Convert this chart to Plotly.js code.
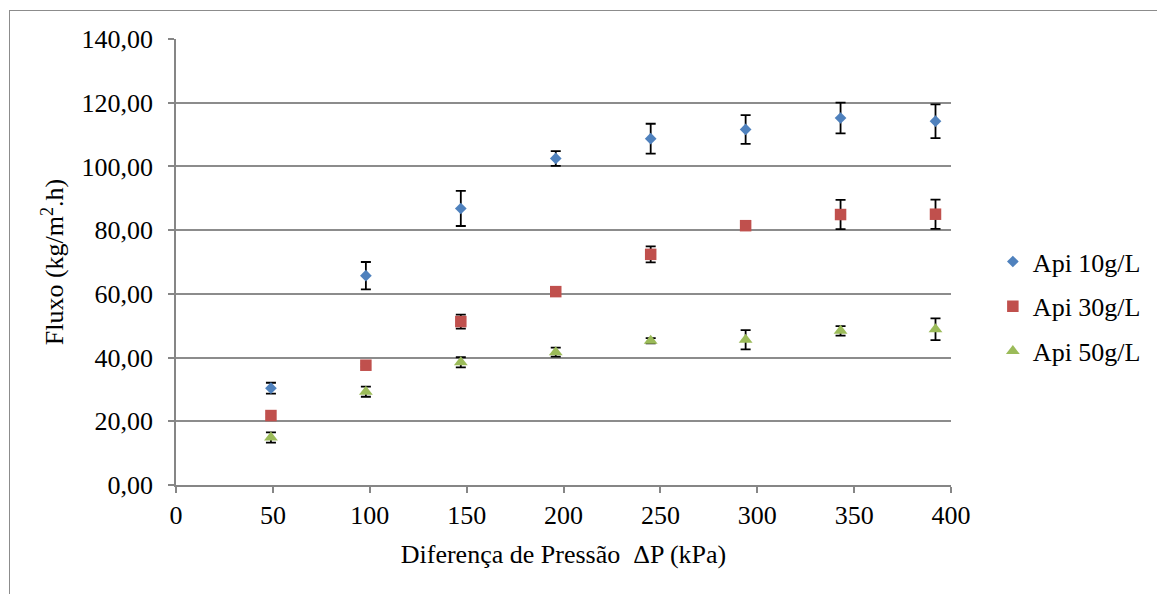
<!DOCTYPE html>
<html>
<head>
<meta charset="utf-8">
<script src="https://cdn.plot.ly/plotly-3.0.1.min.js"></script>
<style>
  html, body { margin: 0; padding: 0; background: #fff; }
  #wrap { position: relative; width: 1157px; height: 594px; overflow: hidden; }
  #chart { width: 1157px; height: 594px; }
  #frame { position: absolute; left: 9px; top: 10px; width: 1200px; height: 700px;
           border-left: 1.5px solid #8c8c8c; border-top: 1.5px solid #8c8c8c; pointer-events: none; }
</style>
</head>
<body>
<div id="wrap">
  <div id="chart"></div>
  <div id="frame"></div>
</div>
<script>
const pressure = [49, 98, 147, 196, 245, 294, 343, 392];

const api10 = [30.4, 65.7, 86.8, 102.5, 108.7, 111.6, 115.2, 114.2];
const api10Err = [1.7, 4.3, 5.5, 2.3, 4.7, 4.5, 4.8, 5.3];

const api30 = [21.8, 37.6, 51.3, 60.7, 72.4, 81.4, 84.9, 85.0];
const api30Err = [0.5, 0.5, 2.2, 0.5, 2.5, 0.5, 4.6, 4.6];

const api50 = [14.9, 29.3, 38.5, 41.7, 45.3, 45.6, 48.4, 48.9];
const api50Err = [1.6, 1.6, 1.6, 1.4, 0.8, 3.0, 1.5, 3.4];

const seriesNames = ['Api 10g/L', 'Api 30g/L', 'Api 50g/L'];

const FONT = 'Times, Tinos, serif';
const FS = 26;
const errStyle = (arr) => ({ type: 'data', array: arr, visible: true, color: '#000', thickness: 1.8, width: 5 });

const traces = [
  { x: pressure, y: api10, name: seriesNames[0], legendgroup: 'a', type: 'scatter', mode: 'markers',
    marker: { symbol: 'diamond', size: 9, color: '#4F81BD' }, error_y: errStyle(api10Err) },
  { x: pressure, y: api30, name: seriesNames[1], legendgroup: 'b', type: 'scatter', mode: 'markers',
    marker: { symbol: 'square', size: 11.5, color: '#C0504D' }, error_y: errStyle(api30Err) },
  { x: pressure, y: api50, name: seriesNames[2], legendgroup: 'c', type: 'scatter', mode: 'markers',
    marker: { symbol: 'triangle-up', size: 12, color: '#9BBB59' }, error_y: errStyle(api50Err) }
];

const layout = {
  width: 1157, height: 594,
  margin: { l: 176, r: 206, t: 39, b: 109, autoexpand: false },
  paper_bgcolor: '#fff', plot_bgcolor: '#fff',
  separators: ',.',
  font: { family: FONT, size: FS, color: '#000' },
  showlegend: true,
  legend: { x: 1.054, xanchor: 'left', y: 0.40, yanchor: 'middle', traceorder: 'grouped',
            tracegroupgap: 8, itemwidth: 30, font: { family: FONT, size: FS, color: '#000' } },
  xaxis: {
    range: [0, 400], dtick: 50, tick0: 0, showgrid: false, zeroline: false,
    showline: true, linecolor: '#868686', linewidth: 1.5,
    ticks: 'outside', ticklen: 6, tickcolor: '#868686', tickwidth: 1.5,
    ticklabelstandoff: 0,
    tickfont: { family: FONT, size: FS, color: '#000' },
    title: { text: 'Diferença de Pressão  ΔP (kPa)', standoff: 16, font: { family: FONT, size: FS, color: '#000' } }
  },
  yaxis: {
    range: [0, 140], dtick: 20, tick0: 0, tickformat: '.2f',
    showgrid: true, gridcolor: '#8c8c8c', gridwidth: 1.5, zeroline: false,
    showline: true, linecolor: '#868686', linewidth: 1.5,
    ticks: 'outside', ticklen: 6, tickcolor: '#868686', tickwidth: 1.5,
    ticklabelstandoff: 10,
    tickfont: { family: FONT, size: FS, color: '#000' },
    title: { text: 'Fluxo (kg/m<sup>2</sup>.h)', standoff: 10, font: { family: FONT, size: FS, color: '#000' } }
  }
};

Plotly.newPlot('chart', traces, layout, { displayModeBar: false });
</script>
</body>
</html>
